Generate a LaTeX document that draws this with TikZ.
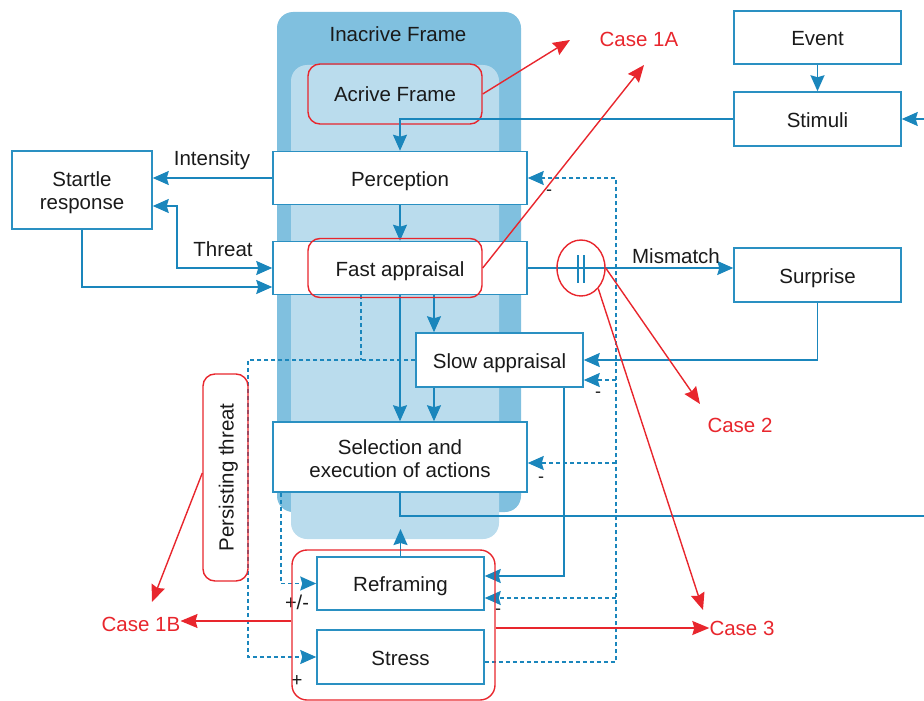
\documentclass[tikz,border=0pt]{standalone}
\usepackage{fontspec}
\setmainfont{Liberation Sans}
\usetikzlibrary{arrows.meta,shapes.geometric}

\definecolor{lineblue}{HTML}{1A86BC}
\definecolor{boxblue}{HTML}{2A90C2}
\definecolor{darkframe}{HTML}{80C0DF}
\definecolor{lightframe}{HTML}{BADCED}
\definecolor{casered}{HTML}{E8262D}
\definecolor{ink}{HTML}{1A1A1A}

\begin{document}
\begin{tikzpicture}[x=1pt,y=-1pt,
  font=\fontsize{20.5}{24}\selectfont,
  box/.style={draw=boxblue, line width=1.5pt, fill=white, inner sep=0pt, text=ink,
    text height=16pt, text depth=0pt},
  twoline/.style={text=ink, inner sep=0pt, align=center},
  redbox/.style={draw=casered, line width=1.4pt, rounded corners=12pt, inner sep=0pt},
  conn/.style={draw=lineblue, line width=1.6pt},
  arr/.style={conn, -{Stealth[length=16pt,width=14pt,inset=2pt]}},
  darr/.style={conn, {Stealth[length=16pt,width=14pt,inset=2pt]}-{Stealth[length=16pt,width=14pt,inset=2pt]}},
  dsh/.style={draw=lineblue, line width=1.3pt, dash pattern=on 4pt off 3pt},
  redarr/.style={draw=casered, line width=1.4pt, -{Stealth[length=17pt,width=14pt,inset=2pt]}},
  lbl/.style={text=ink, inner sep=0pt, text height=16pt, text depth=0pt},
  sgn/.style={text=ink, inner sep=0pt, font=\fontsize{18}{20}\selectfont},
  casetxt/.style={text=casered, inner sep=0pt, text height=16pt, text depth=0pt}]

\useasboundingbox (0,0) rectangle (924,701);

% frames
\fill[darkframe, rounded corners=16pt] (277,12) rectangle (521,512);
\fill[lightframe, rounded corners=16pt] (291,65) rectangle (499,539);
\node[lbl] (inact) at (398,34) {Inacrive Frame};
\node[redbox, minimum width=174pt, minimum height=60pt, text=ink, text height=16pt, text depth=0pt] (act) at (395,94) {Acrive Frame};

% boxes
\node[box, minimum width=254pt, minimum height=53pt] (perc) at (400,178) {Perception};
\node[box, minimum width=254pt, minimum height=53pt] (fast) at (400,268) {Fast appraisal};
\node[box, minimum width=167pt, minimum height=54pt] (slow) at (499.5,360) {Slow appraisal};
\node[box, minimum width=254pt, minimum height=70pt] (sel) at (400,457) {};
\node[twoline] at ([yshift=-2pt]sel.center) {Selection and\\[-1pt]execution of actions};
\node[box, minimum width=167pt, minimum height=53pt] (refr) at (400.5,583.5) {Reframing};
\node[box, minimum width=167pt, minimum height=54pt] (stress) at (400.5,657) {Stress};
\node[box, minimum width=140pt, minimum height=78pt] (startle) at (82,190) {};
\node[twoline] at ([yshift=-3pt]startle.center) {Startle\\[-1pt]response};
\node[box, minimum width=167pt, minimum height=53pt] (event) at (817.5,37.5) {Event};
\node[box, minimum width=167pt, minimum height=54pt] (stim) at (817.5,119) {Stimuli};
\node[box, minimum width=167pt, minimum height=54pt] (surp) at (817.5,275) {Surprise};

% helper rows and columns
\coordinate (rightIn) at (924,119);
\coordinate (yThreat) at (0,206);
\coordinate (xThreat) at (177,0);
\coordinate (yFastLow) at (0,287);
\coordinate (xSlowIn) at (434,0);
\coordinate (xSlowOut) at (564,0);
\coordinate (yRefrIn) at (0,576);
\coordinate (rightOut) at (924,516);
\coordinate (yFrameTip) at (0,529);
\coordinate (bus) at (616,0);
\coordinate (yPercFb) at (0,178);
\coordinate (ySlowFb) at (0,380);
\coordinate (ySelFb) at (0,463);
\coordinate (yRefrFb) at (0,598);
\coordinate (yStressOut) at (0,662);
\coordinate (xFastDash) at (361,0);
\coordinate (xLeftBus) at (248,0);
\coordinate (xSelDash) at (281,0);

% solid connectors
\draw[arr] (event) -- (stim);
\draw[arr] (rightIn) -- (stim.east);
\draw[arr] (stim.west) -| (perc.north);
\draw[arr] (perc.west) -- (startle.east |- perc.west);
\node[lbl] at (212,157) {Intensity};
\draw[darr] (startle.east |- yThreat) -- (xThreat |- yThreat) -- (xThreat |- fast.west) -- (fast.west);
\node[lbl] at (223,248) {Threat};
\draw[arr] (startle.south) |- (fast.west |- yFastLow);
\draw[arr] (perc.south) -- (fast.north);
\draw[arr] (fast.south -| xSlowIn) -- (slow.north -| xSlowIn);
\draw[arr] (fast.south) -- (sel.north);
\draw[arr] (slow.south -| xSlowIn) -- (sel.north -| xSlowIn);
\draw[arr] (fast.east) -- (surp.west |- fast.east);
\node[lbl] at (676,255) {Mismatch};
\draw[arr] (surp.south) |- (slow.east);
\draw[arr] (slow.south -| xSlowOut) |- (refr.east |- yRefrIn);
\draw[conn] (sel.south) |- (rightOut);
\draw[arr] (refr.north) -- (refr.north |- yFrameTip);

% dashed feedback from stress
\draw[dsh, arr] (stress.east |- yStressOut) -| (bus |- yPercFb) -- (perc.east |- yPercFb);
\draw[dsh, arr] (bus |- ySlowFb) -- (slow.east |- ySlowFb);
\draw[dsh, arr] (bus |- ySelFb) -- (sel.east |- ySelFb);
\draw[dsh, arr] (bus |- yRefrFb) -- (refr.east |- yRefrFb);
\node[sgn] at (549,193) {-};
\node[sgn] at (598,395) {-};
\node[sgn] at (541,480) {-};
\node[sgn] at (498,612) {-};

% dashed inputs to stress and reframing
\draw[dsh] (fast.south -| xFastDash) -- (xFastDash |- slow.west);
\draw[dsh, arr] (slow.west) -| (xLeftBus |- stress.west) -- (stress.west);
\draw[dsh, arr] (sel.south -| xSelDash) |- (refr.west);
\node[sgn, font=\fontsize{20}{22}\selectfont] at (297,602) {+/-};
\node[sgn, font=\fontsize{19}{21}\selectfont] at (297,681) {+};

% red outlines
\node[redbox, minimum width=174pt, minimum height=59pt] (fastring) at (395,268) {};
\node[redbox, rounded corners=15pt, minimum width=203pt, minimum height=150pt] (grp) at (393.5,625) {};
\node[redbox, minimum width=45pt, minimum height=207pt] (pers) at (225.5,477.5) {};
\node[rotate=90, text=ink, text height=16pt, text depth=0pt, inner sep=0pt] at (pers.center) {Persisting threat};
\node[draw=casered, line width=1.4pt, ellipse, minimum width=48pt, minimum height=56pt, inner sep=0pt] (ring) at (581,268) {};
\draw[lineblue, line width=1.5pt] (578,255) -- (578,283) (584,255) -- (584,283);

% case labels
\node[casetxt] (c1A) at (639,39) {Case 1A};
\node[casetxt] (c2) at (740,424) {Case 2};
\node[casetxt] (c3) at (742,627) {Case 3};
\node[casetxt] (c1B) at (141,623) {Case 1B};
\coordinate (tip1Aa) at (570,40);
\coordinate (tip1Ab) at (644,65);
\coordinate (tip2) at (700,404);
\coordinate (tip3a) at (703,610);
\coordinate (tip1Ba) at (152,602);
\coordinate (y1B) at (0,621);
\coordinate (y3) at (0,628);
\coordinate (yPers) at (0,473);

% red arrows
\draw[redarr] (act.east) -- (tip1Aa);
\draw[redarr] (fastring.east) -- (tip1Ab);
\draw[redarr] (ring.east) -- (tip2);
\draw[redarr] (ring.-50) -- (tip3a);
\draw[redarr] (grp.east |- y3) -- (c3.west |- y3);
\draw[redarr] (grp.west |- y1B) -- (c1B.east |- y1B);
\draw[redarr] (pers.west |- yPers) -- (tip1Ba);

\end{tikzpicture}
\end{document}
